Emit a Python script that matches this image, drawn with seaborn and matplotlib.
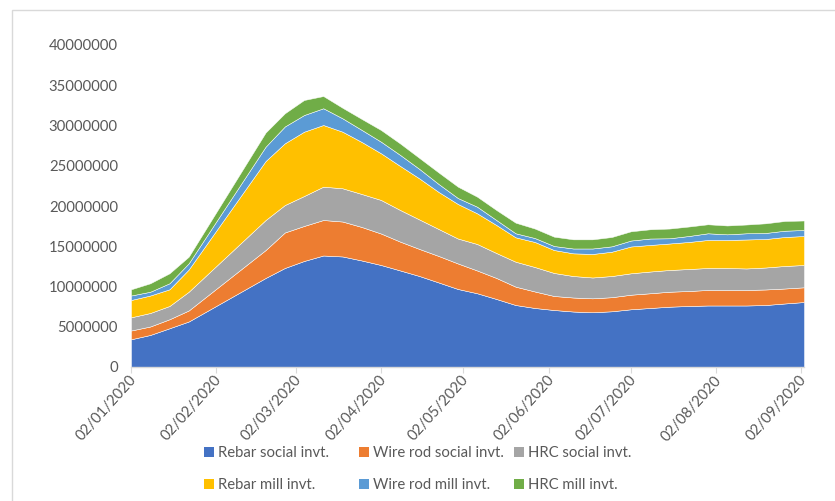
import matplotlib
matplotlib.use("Agg")
import matplotlib.pyplot as plt
from matplotlib.patches import Rectangle, Patch
from matplotlib.ticker import FuncFormatter
from matplotlib.transforms import ScaledTranslation
import pandas as pd
import seaborn as sns

# Weekly steel inventory (tonnes), 2020
dates = ["2020-01-02", "2020-01-09", "2020-01-16", "2020-01-23", "2020-02-20",
         "2020-02-27", "2020-03-05", "2020-03-12", "2020-03-19", "2020-03-26",
         "2020-04-02", "2020-04-09", "2020-04-16", "2020-04-23", "2020-04-30",
         "2020-05-07", "2020-05-14", "2020-05-21", "2020-05-28", "2020-06-04",
         "2020-06-11", "2020-06-18", "2020-06-25", "2020-07-02", "2020-07-09",
         "2020-07-16", "2020-07-23", "2020-07-30", "2020-08-06", "2020-08-13",
         "2020-08-20", "2020-08-27", "2020-09-03"]

rebar_social = [3440000, 3980000, 4810000, 5650000, 11060000, 12300000, 13170000,
                13850000, 13730000, 13230000, 12670000, 11990000, 11300000, 10500000,
                9690000, 9160000, 8450000, 7700000, 7330000, 7080000, 6890000, 6800000,
                6920000, 7170000, 7330000, 7490000, 7580000, 7640000, 7640000, 7640000,
                7700000, 7890000, 8070000]
wire_rod_social = [1090000, 1050000, 1120000, 1370000, 3470000, 4410000, 4350000,
                   4410000, 4340000, 4160000, 3910000, 3580000, 3360000, 3290000,
                   3170000, 2830000, 2610000, 2280000, 2050000, 1740000, 1740000,
                   1730000, 1750000, 1810000, 1830000, 1860000, 1860000, 1930000,
                   1930000, 1930000, 1930000, 1860000, 1830000]
hrc_social = [1640000, 1680000, 1650000, 2330000, 3730000, 3410000, 3720000, 4140000,
              4130000, 4100000, 4170000, 3930000, 3660000, 3350000, 3100000, 3290000,
              3100000, 3100000, 3040000, 2860000, 2670000, 2590000, 2630000, 2660000,
              2700000, 2700000, 2730000, 2730000, 2730000, 2670000, 2730000, 2800000,
              2770000]
rebar_mill = [2150000, 2170000, 2070000, 2760000, 7330000, 7670000, 7990000, 7660000,
              7030000, 6460000, 5800000, 5470000, 5100000, 4600000, 4290000, 3810000,
              3480000, 3030000, 3110000, 2850000, 2820000, 2920000, 3020000, 3330000,
              3300000, 3290000, 3360000, 3480000, 3480000, 3600000, 3540000, 3600000,
              3600000]
wire_rod_mill = [560000, 470000, 750000, 770000, 1780000, 2090000, 2070000, 2080000,
                 1660000, 1500000, 1440000, 1370000, 1180000, 990000, 740000, 820000,
                 620000, 500000, 490000, 500000, 600000, 680000, 670000, 740000,
                 800000, 650000, 740000, 830000, 700000, 770000, 750000, 780000,
                 750000]
hrc_mill = [770000, 1050000, 1240000, 820000, 1760000, 1640000, 1870000, 1520000,
            1310000, 1360000, 1450000, 1420000, 1360000, 1430000, 1410000, 1250000,
            1240000, 1320000, 1180000, 1160000, 1140000, 1140000, 1160000, 1150000,
            1150000, 1210000, 1180000, 1120000, 1100000, 1090000, 1200000, 1210000,
            1180000]

series_names = ["Rebar social invt.", "Wire rod social invt.", "HRC social invt.",
                "Rebar mill invt.", "Wire rod mill invt.", "HRC mill invt."]
series_colors = ["#4472C4", "#ED7D31", "#A5A5A5", "#FFC000", "#5B9BD5", "#70AD47"]

tick_dates = ["2020-01-02", "2020-02-02", "2020-03-02", "2020-04-02", "2020-05-02",
              "2020-06-02", "2020-07-02", "2020-08-02", "2020-09-02"]
tick_labels = ["02/01/2020", "02/02/2020", "02/03/2020", "02/04/2020", "02/05/2020",
               "02/06/2020", "02/07/2020", "02/08/2020", "02/09/2020"]
y_ticks = [0, 5000000, 10000000, 15000000, 20000000, 25000000, 30000000,
           35000000, 40000000]

df = pd.DataFrame(
    dict(zip(series_names, [rebar_social, wire_rod_social, hrc_social,
                            rebar_mill, wire_rod_mill, hrc_mill])),
    index=pd.to_datetime(dates),
)

sns.set_theme(style="white")
plt.rcParams["font.family"] = ["Lato", "DejaVu Sans"]
palette = sns.color_palette(series_colors)

W, H = 835, 501
text_grey = "#595959"
line_grey = "#D9D9D9"
fs = 10.7

fig = plt.figure(figsize=(W / 100, H / 100), dpi=100)
ax = fig.add_axes([131 / W, (H - 367) / H, (804 - 131) / W, (367 - 45) / H])

ax.stackplot(df.index, *[df[c].values for c in series_names],
             colors=palette, labels=series_names,
             edgecolor="white", linewidth=0.35)

ax.set_xlim(pd.Timestamp(dates[0]), pd.Timestamp(dates[-1]))
ax.set_ylim(y_ticks[0], y_ticks[-1])
ax.set_yticks(y_ticks)
ax.yaxis.set_major_formatter(FuncFormatter(lambda v, p: f"{int(v)}"))
ax.set_xticks(pd.to_datetime(tick_dates))
ax.set_xticklabels(tick_labels)

for side in ["top", "right", "left"]:
    ax.spines[side].set_visible(False)
ax.spines["bottom"].set_color(line_grey)
ax.spines["bottom"].set_linewidth(1.0)
ax.grid(False)

ax.tick_params(axis="y", length=0, pad=9.5, labelsize=fs, labelcolor=text_grey)
ax.tick_params(axis="x", length=4.3, width=0.8, color=line_grey, direction="out",
               pad=3.5, labelsize=fs, labelcolor=text_grey, bottom=True)
shift = ScaledTranslation(3 / 100, 0, fig.dpi_scale_trans)
for lbl in ax.get_xticklabels():
    lbl.set_rotation(48)
    lbl.set_ha("right")
    lbl.set_va("center")
    lbl.set_rotation_mode("anchor")
    lbl.set_transform(lbl.get_transform() + shift)

# legend: three columns, two rows (row-major order)
col_x = [204, 359, 514]
for i, x in enumerate(col_x):
    idx = [i, i + 3]
    handles = [Patch(facecolor=palette[k], edgecolor="none", label=series_names[k])
               for k in idx]
    fig.legend(handles=handles, loc="upper left",
               bbox_to_anchor=(x / W, 1 - 446 / H),
               bbox_transform=fig.transFigure, frameon=False,
               borderpad=0, borderaxespad=0, handlelength=0.68,
               handleheight=0.68, handletextpad=0.25, labelspacing=1.2,
               fontsize=fs, labelcolor=text_grey)

# chart border
fig.add_artist(Rectangle((12 / W, -0.05), 1.0, (H - 10) / H + 0.05,
                         transform=fig.transFigure, fill=False,
                         edgecolor=line_grey, linewidth=1.0, clip_on=False))

fig.savefig("out.png", dpi=100, facecolor="white")
